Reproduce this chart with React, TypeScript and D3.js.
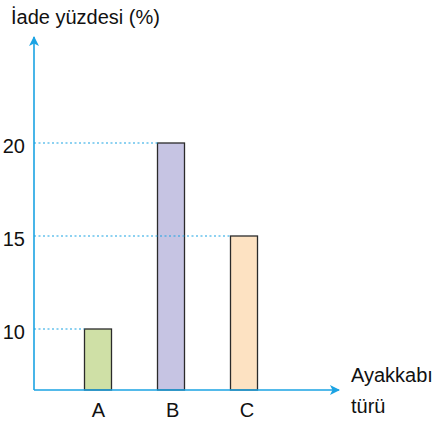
import { scaleLinear, scalePoint } from "d3";

const categories = ["A", "B", "C"];
const returnPct = [10, 20, 15];
const barColors = ["#cfe0a6", "#c6c4e3", "#fde2c2"];
const yTicks = [10, 15, 20];

const width = 439
const height = 422
const axisColor = "#1ba3e3"
const font = "'Liberation Sans', Arial, sans-serif"

export default function App() {
  const originX = 34
  const originY = 390
  const barW = 27

  const xScale = scalePoint<string>().domain(categories).range([98, 244])
  // labels sit a touch right of the bar centres in the original
  const labelScale = scalePoint<string>().domain(categories).range([98.5, 247])
  const yScale = scaleLinear().domain([10, 20]).range([329, 143])

  return (
    <svg width={width} height={height} viewBox={`0 0 ${width} ${height}`}
      style={{ position: "absolute", left: 0, top: 0, background: "#fff" }}>
      <defs>
        <marker id="arr" viewBox="0 0 10 10" refX="9" refY="5" markerWidth="10" markerHeight="10"
          markerUnits="userSpaceOnUse" orient="auto">
          <path d="M0,0 L10,5 L0,10 L2.5,5 Z" fill={axisColor} />
        </marker>
      </defs>

      {/* bars */}
      {categories.map((c, i) => (
        <rect key={c}
          x={(xScale(c) ?? 0) - barW / 2}
          y={yScale(returnPct[i])}
          width={barW}
          height={originY - yScale(returnPct[i])}
          fill={barColors[i]}
          stroke="#2b2b2b"
          strokeWidth={1.3} />
      ))}

      {/* dotted guide lines: from axis to the bar reaching that value */}
      {yTicks.map(t => {
        const idx = returnPct.indexOf(t)
        const x2 = (xScale(categories[idx]) ?? 0) - barW / 2
        return (
          <line key={t} x1={originX} x2={x2} y1={yScale(t)} y2={yScale(t)}
            stroke={axisColor} strokeWidth={1.2} strokeDasharray="2,2.5" />
        )
      })}

      {/* axes */}
      <line x1={originX} x2={originX} y1={originY} y2={37} stroke={axisColor} strokeWidth={1.6} markerEnd="url(#arr)" />
      <line x1={originX} x2={339} y1={originY} y2={originY} stroke={axisColor} strokeWidth={1.6} markerEnd="url(#arr)" />

      {/* y tick labels */}
      {yTicks.map(t => (
        <text key={t} x={25} y={yScale(t) + 10} textAnchor="end" fontSize={20} fontFamily={font} fill="#111">{t}</text>
      ))}

      {/* x labels */}
      {categories.map(c => (
        <text key={c} x={labelScale(c)} y={417} textAnchor="middle" fontSize={20} fontFamily={font} fill="#111">{c}</text>
      ))}

      <text x={11} y={24} fontSize={20} fontFamily={font} fill="#111">İade yüzdesi (%)</text>
      <text x={351} y={382} fontSize={20} fontFamily={font} fill="#111">Ayakkabı</text>
      <text x={351} y={413} fontSize={20} fontFamily={font} fill="#111">türü</text>
    </svg>
  )
}
